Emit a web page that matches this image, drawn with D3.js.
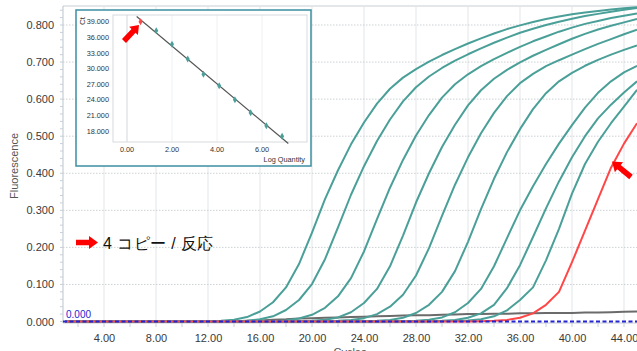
<!DOCTYPE html>
<html><head><meta charset="utf-8">
<script src="https://cdn.jsdelivr.net/npm/d3@7"></script>
<style>
html,body{margin:0;padding:0;background:#fff;}
svg{display:block;}
text{font-family:"Liberation Sans",Arial,sans-serif;}
</style></head><body>
<svg id="chart" width="637" height="351"></svg>
<script>
// ---------------- DATA ----------------
const cycles = [1,2,3,4,5,6,7,8,9,10,11,12,13,14,15,16,17,18,19,20,21,22,23,24,25,26,27,28,29,30,31,32,33,34,35,36,37,38,39,40,41,42,43,44,45];

const std1 = [0,0,0,0,0,0,0,0,0,0,0,.001,.002,.005,.012,.027,.052,.092,.155,.240,.330,.408,.478,.537,.588,.628,.658,.681,.701,.719,.735,.750,.764,.777,.789,.799,.808,.816,.823,.829,.834,.838,.842,.845,.848];
const std2 = [0,0,0,0,0,0,0,0,0,0,0,0,0,.001,.002,.006,.014,.031,.058,.101,.168,.254,.342,.419,.487,.545,.594,.632,.661,.684,.704,.721,.737,.752,.766,.779,.790,.800,.809,.817,.824,.830,.836,.841,.846];
const std3 = [0,0,0,0,0,0,0,0,0,0,0,0,0,0,0,0,.001,.003,.008,.018,.037,.068,.117,.189,.276,.361,.436,.502,.557,.604,.640,.667,.689,.708,.725,.741,.756,.769,.782,.793,.803,.811,.819,.825,.831];
const std4 = [0,0,0,0,0,0,0,0,0,0,0,0,0,0,0,0,0,0,.001,.002,.005,.011,.025,.050,.088,.149,.232,.321,.400,.471,.531,.583,.624,.655,.679,.699,.717,.733,.748,.763,.776,.788,.798,.807,.816];
const std5 = [0,0,0,0,0,0,0,0,0,0,0,0,0,0,0,0,0,0,0,0,.001,.002,.004,.009,.020,.040,.072,.124,.198,.285,.369,.443,.508,.563,.608,.643,.668,.689,.705,.720,.735,.749,.762,.775,.787];
const std6 = [0,0,0,0,0,0,0,0,0,0,0,0,0,0,0,0,0,0,0,0,0,0,0,.001,.002,.004,.010,.023,.045,.080,.136,.215,.303,.385,.457,.519,.573,.616,.648,.671,.690,.706,.720,.733,.745];
const std7 = [0,0,0,0,0,0,0,0,0,0,0,0,0,0,0,0,0,0,0,0,0,0,0,0,0,0,.001,.002,.005,.011,.025,.050,.088,.149,.225,.300,.365,.425,.480,.530,.577,.617,.648,.672,.690];
const std8 = [0,0,0,0,0,0,0,0,0,0,0,0,0,0,0,0,0,0,0,0,0,0,0,0,0,0,0,0,.001,.002,.004,.010,.022,.045,.090,.152,.228,.305,.378,.443,.500,.548,.585,.618,.648];
const std9 = [0,0,0,0,0,0,0,0,0,0,0,0,0,0,0,0,0,0,0,0,0,0,0,0,0,0,0,0,0,.001,.002,.003,.006,.014,.030,.058,.092,.165,.250,.345,.425,.485,.535,.580,.625];
const sample4copies = [0,0,0,0,0,0,0,0,0,0,0,0,0,0,0,0,0,0,0,0,0,0,0,0,0,0,0,0,0,0,0,0,.001,.002,.004,.010,.022,.045,.080,.160,.245,.330,.415,.480,.535];
const ntc = [.001,.001,.001,.001,.001,.001,.001,.001,.001,.001,.001,.001,.001,.001,.002,.003,.005,.006,.008,.009,.010,.011,.012,.013,.014,.015,.016,.017,.017,.018,.019,.020,.020,.021,.021,.022,.022,.023,.023,.023,.024,.024,.025,.026,.027];
const standards = [std1,std2,std3,std4,std5,std6,std7,std8,std9];
const threshold = 0.000;

const yTicks = [0,0.1,0.2,0.3,0.4,0.5,0.6,0.7,0.8];
const xTicks = [4,8,12,16,20,24,28,32,36,40,44];

// inset standard curve
const logQuantity = [0.602,1.301,2.000,2.699,3.398,4.097,4.796,5.495,6.194,6.893];
const ctValues    = [39.0,37.3,34.7,31.85,28.9,26.7,24.0,21.5,19.0,17.0];
const isSample    = [true,false,false,false,false,false,false,false,false,false];
const insetXTicks = [0,2,4,6];
const insetYTicks = [18,21,24,27,30,33,36,39];
const fitRange = [0.43,7.17];

// ---------------- DRAW ----------------
const TEAL="#4aa098", RED="#ff4747", GREY="#6b6b6b", BLUE="#2424d0", ARROW="#ff0000";
const svg=d3.select("#chart");
const P={left:63,right:637,top:6,bottom:323};
const x=d3.scaleLinear().domain([1,45]).range([65,637]);
const y=d3.scaleLinear().domain([0,0.8]).range([321.5,25]);

// gridlines
svg.append("g").selectAll("line").data(xTicks).join("line")
  .attr("x1",d=>x(d)).attr("x2",d=>x(d)).attr("y1",P.top).attr("y2",P.bottom)
  .attr("stroke","#e2e5e8").attr("stroke-width",1);
svg.append("g").selectAll("line").data(yTicks.filter(d=>d>0)).join("line")
  .attr("x1",P.left).attr("x2",P.right).attr("y1",d=>y(d)).attr("y2",d=>y(d))
  .attr("stroke","#cdd1d4").attr("stroke-dasharray","1.5,1.5");
svg.append("line").attr("x1",P.left).attr("x2",P.right).attr("y1",P.top).attr("y2",P.top)
  .attr("stroke","#e3e7ea").attr("stroke-width",2);

// y axis
const yAxis=svg.append("g").attr("transform",`translate(${P.left},0)`)
  .call(d3.axisLeft(y).tickValues(yTicks).tickFormat(d3.format(".3f")).tickSize(0).tickPadding(9));
yAxis.select(".domain").remove();
yAxis.selectAll("text").attr("font-size",11).attr("fill","#3a3a3a").attr("font-family","Liberation Sans");
svg.append("line").attr("x1",P.left).attr("x2",P.left).attr("y1",P.top).attr("y2",P.bottom)
  .attr("stroke","#c5ced6").attr("stroke-width",1.2);
svg.append("g").selectAll("line").data(d3.range(0,0.86,0.02)).join("line")
  .attr("x1",P.left-3).attr("x2",P.left).attr("y1",d=>y(d)).attr("y2",d=>y(d))
  .attr("stroke","#c8cfd6");

// x axis
const xAxis=svg.append("g").attr("transform",`translate(0,${P.bottom})`)
  .call(d3.axisBottom(x).tickValues(xTicks).tickFormat(d3.format(".2f")).tickSize(0).tickPadding(11));
xAxis.select(".domain").remove();
xAxis.selectAll("text").attr("font-size",11).attr("fill","#3a3a3a").attr("font-family","Liberation Sans");
svg.append("line").attr("x1",P.left).attr("x2",P.right).attr("y1",P.bottom).attr("y2",P.bottom)
  .attr("stroke","#c5ced6").attr("stroke-width",1.2);
svg.append("g").selectAll("line").data(d3.range(2,46,2)).join("line")
  .attr("x1",d=>x(d)).attr("x2",d=>x(d)).attr("y1",P.bottom).attr("y2",P.bottom+4)
  .attr("stroke","#c8cfd6");

// axis titles
svg.append("text").attr("transform","translate(18,166) rotate(-90)").attr("text-anchor","middle")
  .attr("font-size",11).attr("fill","#555").text("Fluorescence");
svg.append("text").attr("x",350).attr("y",356).attr("text-anchor","middle")
  .attr("font-size",11).attr("fill","#555").text("Cycles");

// curves
const line=d3.line().x((d,i)=>x(cycles[i])).y(d=>y(d));
const curves=svg.append("g").attr("fill","none").attr("stroke-linejoin","round");
curves.append("path").attr("d",line(ntc)).attr("stroke",GREY).attr("stroke-width",2);
curves.selectAll("path.std").data(standards).join("path").attr("class","std")
  .attr("d",d=>line(d)).attr("stroke",TEAL).attr("stroke-width",2);
curves.append("path").attr("d",line(sample4copies)).attr("stroke",RED).attr("stroke-width",2);
svg.append("line").attr("x1",P.left).attr("x2",P.right).attr("y1",y(threshold)).attr("y2",y(threshold))
  .attr("stroke",BLUE).attr("stroke-width",2).attr("stroke-dasharray","4,2.5");
svg.append("text").attr("x",66).attr("y",318).attr("font-size",10).attr("fill",BLUE)
  .text(d3.format(".3f")(threshold));

// arrows
function arrowPath(x1,y1,x2,y2,shaft,headLen,headW){
  const dx=x2-x1,dy=y2-y1,L=Math.hypot(dx,dy),ux=dx/L,uy=dy/L,nx=-uy,ny=ux;
  const bx=x2-ux*headLen,by=y2-uy*headLen;
  const pts=[[x1+nx*shaft/2,y1+ny*shaft/2],[bx+nx*shaft/2,by+ny*shaft/2],[bx+nx*headW/2,by+ny*headW/2],
    [x2,y2],[bx-nx*headW/2,by-ny*headW/2],[bx-nx*shaft/2,by-ny*shaft/2],[x1-nx*shaft/2,y1-ny*shaft/2]];
  return "M"+pts.map(p=>p.join(",")).join("L")+"Z";
}

// label
svg.append("path").attr("d",arrowPath(76,242.5,98,242.5,5.5,9,13)).attr("fill",ARROW);
svg.append("text").attr("x",103).attr("y",248.5).attr("font-size",16).attr("letter-spacing",0.4).attr("fill","#111")
  .attr("font-family","Noto Sans CJK JP").text("4 コピー / 反応");
svg.append("path").attr("d",arrowPath(631,177,612,161.5,5.5,9,13)).attr("fill",ARROW);

// ---------------- INSET ----------------
const inset=svg.append("g");
inset.append("rect").attr("x",76).attr("y",10).attr("width",235).attr("height",156)
  .attr("fill","#fff").attr("stroke","#3b8ea1").attr("stroke-width",1.5);
const xi=d3.scaleLinear().domain([0,6]).range([127,262]);
const yi=d3.scaleLinear().domain([18,39]).range([131,21.8]);
const IP={left:113,right:307,top:15,bottom:142};
inset.append("g").selectAll("line").data(insetXTicks).join("line")
  .attr("x1",d=>xi(d)).attr("x2",d=>xi(d)).attr("y1",IP.top).attr("y2",IP.bottom)
  .attr("stroke",d=>d===0?"#d3d7db":"#eef0f2");
inset.append("rect").attr("x",IP.left).attr("y",IP.top).attr("width",IP.right-IP.left).attr("height",IP.bottom-IP.top)
  .attr("fill","none").attr("stroke","#d6dade");
inset.append("g").selectAll("text").data(insetYTicks).join("text")
  .attr("x",109).attr("y",d=>yi(d)+2.6).attr("text-anchor","end").attr("font-size",7.3).attr("fill","#333")
  .text(d=>d3.format(".3f")(d));
inset.append("g").selectAll("text").data(insetXTicks).join("text")
  .attr("x",d=>xi(d)).attr("y",152).attr("text-anchor","middle").attr("font-size",7.3).attr("fill","#333")
  .text(d=>d3.format(".2f")(d));
inset.append("text").attr("x",305).attr("y",162).attr("text-anchor","end").attr("font-size",7.3).attr("fill","#333").text("Log Quantity");
inset.append("text").attr("transform","translate(85,21) rotate(-90)").attr("text-anchor","middle").attr("font-size",8).attr("fill","#333").text("Ct");
// fit
const mx=d3.mean(logQuantity), my=d3.mean(ctValues);
const slope=d3.sum(logQuantity,(d,i)=>(d-mx)*(ctValues[i]-my))/d3.sum(logQuantity,d=>(d-mx)*(d-mx));
const icpt=my-slope*mx;
inset.append("line").attr("x1",xi(fitRange[0])).attr("y1",yi(icpt+slope*fitRange[0]))
  .attr("x2",xi(fitRange[1])).attr("y2",yi(icpt+slope*fitRange[1])).attr("stroke","#555").attr("stroke-width",1.2);
inset.append("g").selectAll("path").data(logQuantity).join("path")
  .attr("transform",(d,i)=>`translate(${xi(d)},${yi(ctValues[i])})`)
  .attr("d",d3.symbol().type(d3.symbolDiamond).size(14))
  .attr("fill",(d,i)=>isSample[i]?RED:TEAL);
inset.append("path").attr("d",arrowPath(124,41,139,25,5.5,8,12)).attr("fill",ARROW);
</script>
</body></html>
